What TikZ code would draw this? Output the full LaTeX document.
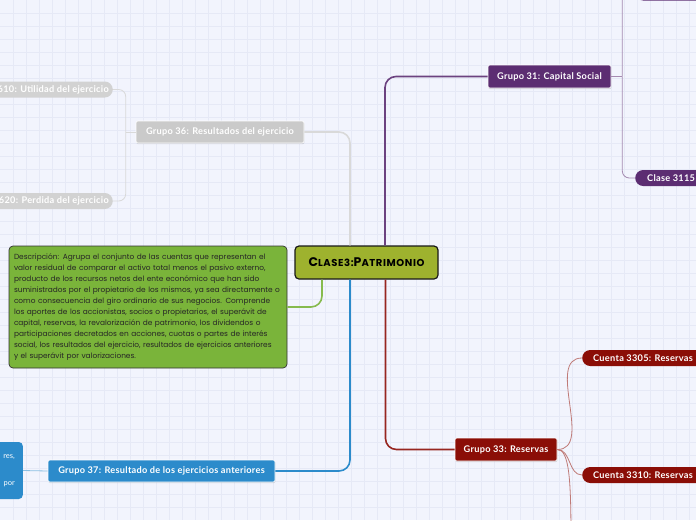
\documentclass[tikz,border=0pt]{standalone}
\usepackage{fontspec}
\setmainfont{Lato}
\newfontfamily\rootfont{Poppins}
\newfontfamily\descfont{Poppins}
\usetikzlibrary{positioning,calc,shadows}
\definecolor{bgcol}{HTML}{F2F4FD}
\definecolor{gridcol}{HTML}{E6E9F6}
\definecolor{rootcol}{HTML}{9EB22E}
\definecolor{purplecol}{HTML}{5C2D72}
\definecolor{redcol}{HTML}{8B0E07}
\definecolor{bluecol}{HTML}{2C8BCB}
\definecolor{greencol}{HTML}{7AB43A}
\definecolor{greycol}{HTML}{CACACA}

\begin{document}
\begin{tikzpicture}[x=1pt,y=-1pt,
   grupo/.style={rounded corners=2pt,draw=white,line width=0.6pt,text=white,
     font=\bfseries\addfontfeature{LetterSpace=3}\fontsize{9.2}{9}\selectfont,minimum height=23pt,inner sep=0pt,
     drop shadow={shadow xshift=0.4pt,shadow yshift=-1.2pt,opacity=0.25}},
   hoja/.style={rounded corners=8pt,text=white,font=\bfseries\addfontfeature{LetterSpace=3}\fontsize{9.2}{9}\selectfont,
     minimum height=16pt,inner xsep=11pt,inner ysep=0pt},
   rama/.style={line width=1.6pt,rounded corners=11pt},
   ramita/.style={line width=0.8pt,rounded corners=7pt}]
  \useasboundingbox (0,0) rectangle (696,520);
  \clip (0,0) rectangle (696,520);
  \fill[bgcol] (0,0) rectangle (696,520);
  \foreach \i in {13,26,...,689} \draw[gridcol,line width=0.4pt] (\i,0) -- (\i,520);
  \foreach \j in {13,26,...,507} \draw[gridcol,line width=0.4pt] (0,\j) -- (696,\j);

  \node[draw=black!90,line width=1.2pt,rounded corners=4pt,fill=rootcol,
        minimum width=143pt,minimum height=33pt] (root) at (366.5,262.5)
        {\rootfont\bfseries\addfontfeature{LetterSpace=6}{\fontsize{12.5}{12}\selectfont C}{\fontsize{10}{12}\selectfont LASE3:}{\fontsize{12.5}{12}\selectfont P}{\fontsize{10}{12}\selectfont ATRIMONIO}};

  \node[grupo,fill=purplecol,minimum width=123pt] (g31) at (549.5,76.5) {Grupo 31: Capital Social};
  \node[grupo,fill=redcol,minimum width=102pt] (g33) at (506,449.5) {Grupo 33: Reservas};
  \node[grupo,fill=bluecol,minimum width=227pt,minimum height=22pt] (g37) at (161.5,471) {Grupo 37: Resultado de los ejercicios anteriores};
  \node[grupo,fill=greycol,minimum width=168pt,minimum height=22pt] (g36) at (220,132) {Grupo 36: Resultados del ejercicio};

  \node[draw=black!80,line width=0.7pt,rounded corners=4pt,fill=greencol,
        minimum width=278pt,minimum height=122pt,text width=268pt,inner xsep=4pt,align=left,
        text=black!85,font=\descfont\fontsize{7.4}{10.9}\selectfont] (desc) at (148,307)
   {Descripción: Agrupa el conjunto de las cuentas que representan el\\
    valor residual de comparar el activo total menos el pasivo externo,\\
    producto de los recursos netos del ente económico que han sido\\
    suministrados por el propietario de los mismos, ya sea directamente o\\
    como consecuencia del giro ordinario de sus negocios. Comprende\\
    los aportes de los accionistas, socios o propietarios, el superávit de\\
    capital, reservas, la revalorización de patrimonio, los dividendos o\\
    participaciones decretados en acciones, cuotas o partes de interés\\
    social, los resultados del ejercicio, resultados de ejercicios anteriores\\
    y el superávit por valorizaciones.};

  \node[hoja,fill=greycol!85,anchor=east,inner xsep=4pt] (c3610) at (113,89.5) {Cuenta 3610: Utilidad del ejercicio};
  \node[hoja,fill=greycol!85,anchor=east,inner xsep=4pt] (c3620) at (113,201) {Cuenta 3620: Perdida del ejercicio\hspace{9pt}};
  \node[hoja,fill=purplecol,anchor=west,inner xsep=12pt] (c3115) at (635,178) {Clase 3115\hspace{60pt}};
  \node[hoja,fill=purplecol,anchor=west,minimum width=120pt,minimum height=17pt] (c3105) at (635,-8) {};
  \node[hoja,fill=redcol,anchor=west] (c3305) at (582,358) {Cuenta 3305: Reservas\hspace{40pt}};
  \node[hoja,fill=redcol,anchor=west] (c3310) at (582,475) {Cuenta 3310: Reservas\hspace{40pt}};
  \node[fill=bluecol,rounded corners=4pt,anchor=east,minimum height=57pt,text=white,
        align=right,inner xsep=8pt,font=\fontsize{7.5}{13.5}\selectfont] (nota37) at (23,470.5)
        {res,\\ \mbox{}\\ por};

  \coordinate (k31) at ([xshift=11pt]g31.east);
  \coordinate (k36) at ([xshift=-10pt]g36.west);
  \coordinate (k33) at (571,540);

  \draw[rama,purplecol!90] ([xshift=18.5pt]root.north) |- (g31.west);
  \draw[rama,redcol!90] ([xshift=19pt]root.south) |- (g33.west);
  \draw[rama,bluecol] ([xshift=-16.5pt]root.south) |- (g37.east);
  \draw[rama,black!15] ([xshift=-16.5pt]root.north) |- (g36.east);
  \draw[rama,greencol!90!white] ([xshift=-44.5pt]root.south) |- (desc.east);

  \draw[ramita,purplecol!55] (g31.east) -- (k31);
  \draw[ramita,purplecol!55] (k31) |- (c3115.west);
  \draw[ramita,purplecol!55] (k31) |- (c3105.west);
  \draw[ramita,black!15] (g36.west) -- (k36);
  \draw[ramita,black!15] (k36) |- (c3610.east);
  \draw[ramita,black!15] (k36) |- (c3620.east);
  \draw[ramita,bluecol!55] (g37.west) -- (nota37.east);
  \draw[ramita,redcol!55] (g33.east) to[out=0,in=180] (c3305.west);
  \draw[ramita,redcol!55] (g33.east) to[out=0,in=180] (c3310.west);
  \draw[ramita,redcol!55] (g33.east) .. controls +(12,0) and +(0,-60) .. (k33);
\end{tikzpicture}
\end{document}
